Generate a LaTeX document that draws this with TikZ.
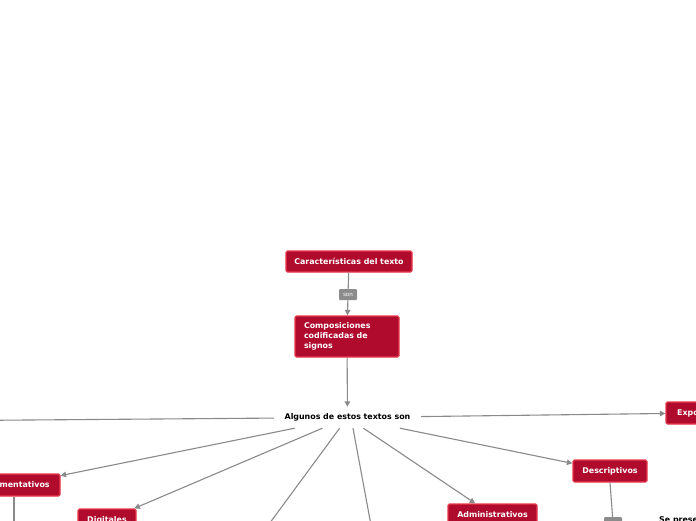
\documentclass[tikz,border=0pt]{standalone}
\usepackage{fontspec}
\setmainfont{DejaVu Sans}
\usetikzlibrary{arrows.meta}
\definecolor{boxfill}{HTML}{B00B2D}
\definecolor{boxline}{HTML}{E8394D}
\definecolor{conn}{HTML}{8A8A8A}
\definecolor{lblfill}{HTML}{8C8C8C}
\tikzset{
  redbox/.style={draw=boxline, fill=boxfill, line width=1.3pt, rounded corners=1.5pt,
    text=white, font=\fontsize{7.9}{9.7}\selectfont\bfseries, inner sep=0pt, align=center},
  plain/.style={text=black, font=\fontsize{7.9}{9.7}\selectfont\bfseries, inner sep=0pt},
  lbl/.style={fill=lblfill, rounded corners=1pt, text=white, font=\fontsize{5.6}{6}\selectfont,
    minimum width=18pt, minimum height=11pt, inner sep=0pt},
  conline/.style={draw=conn, line width=1.1pt},
  arr/.style={conline, -{Triangle[length=5.5pt,width=5.5pt]}}
}
\begin{document}
\begin{tikzpicture}[x=1pt,y=-1pt]
\clip (0,0) rectangle (696,520);
\fill[white] (0,0) rectangle (696,520);
% nodes
\node[redbox, minimum width=126pt, minimum height=21pt] (car) at (349,261.5) {Características del texto};
\node[lbl] (son) at (348,294.5) {son};
\node[redbox, minimum width=104pt, minimum height=41pt, text width=86pt, align=left] (comp) at (347,336.5)
  {Composiciones\\codificadas de\\signos};
\node[plain, minimum width=147pt, minimum height=21pt] (alg) at (347.5,417.5) {Algunos de estos textos son};
\node[redbox, minimum width=92pt, minimum height=22pt] (arg) at (14,485) {Argumentativos};
\node[redbox, minimum width=58pt, minimum height=22pt] (dig) at (107,520) {Digitales};
\node[redbox, minimum width=89pt, minimum height=22pt] (adm) at (492.5,515) {Administrativos};
\node[redbox, minimum width=74pt, minimum height=22pt] (desc) at (610,471) {Descriptivos};
\node[redbox, minimum width=73pt, minimum height=22pt] (expo) at (702.5,413) {Expositivos};
\node[lbl] (lab2) at (613,522.5) {};
\node[plain, anchor=base west] (sep) at (659,522) {Se presenta};
% free ends
\coordinate (leftend) at (-100,421);
\coordinate (botL) at (247,554);
\coordinate (botR) at (376,552);
\coordinate (argdown) at (14,540);
% connectors
\draw[conline] (car) -- (son);
\draw[arr] (son) -- (comp);
\draw[arr] (comp) -- (alg);
\draw[conline] (alg) -- (leftend);
\draw[arr] (alg) -- (expo);
\draw[arr] (alg) -- (arg);
\draw[arr] (alg) -- (dig);
\draw[conline] (alg) -- (botL);
\draw[conline] ([xshift=5.5pt]alg.south) -- (botR);
\draw[arr] (alg) -- (adm);
\draw[arr] (alg) -- (desc);
\draw[conline] (arg.south) -- (argdown);
\draw[conline] (desc.south) -- (lab2);
\end{tikzpicture}
\end{document}
